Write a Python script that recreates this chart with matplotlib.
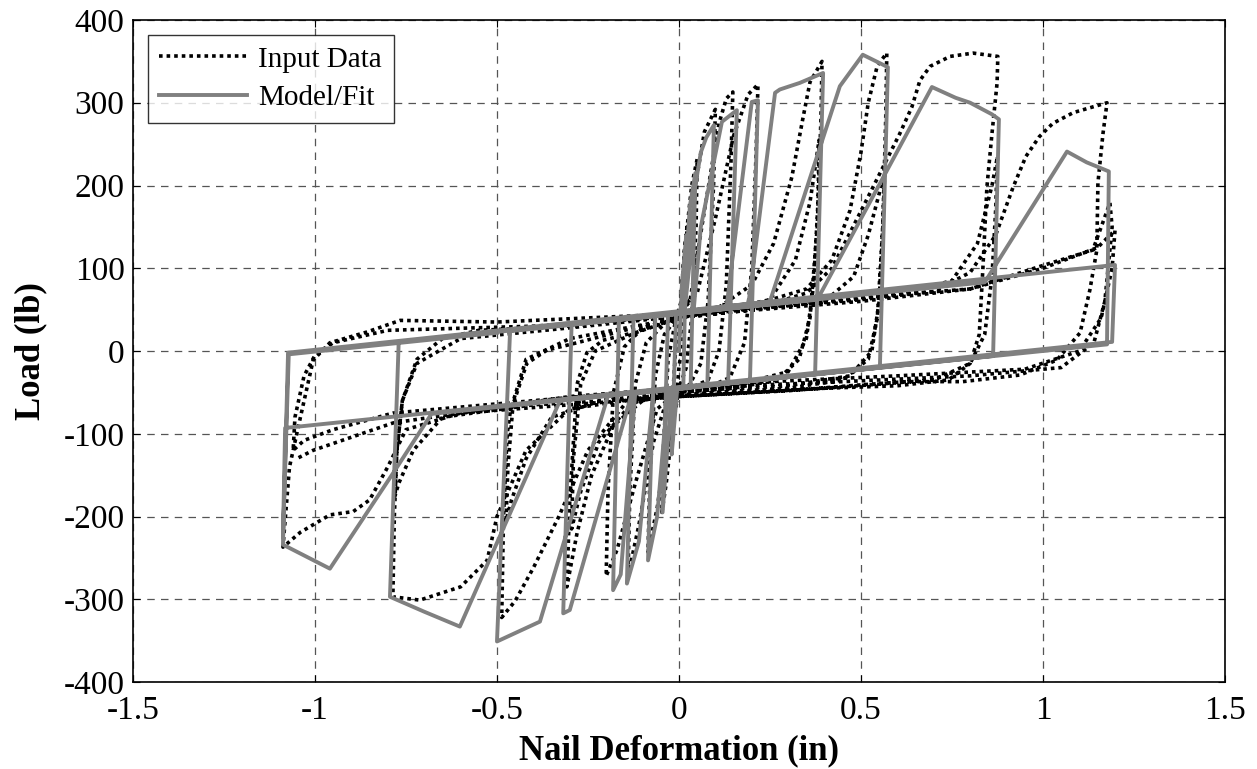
import matplotlib
matplotlib.use("Agg")
import matplotlib.pyplot as plt

# Measured nail hysteresis (displacement in inches, load in lb)
data_x = [
    0.000, 0.005, 0.015, 0.022, 0.020, 0.012, 0.000, -0.008, -0.018, -0.022, -0.018, -0.008, 0.002,
    0.015, 0.035, 0.050, 0.047, 0.035, 0.020, 0.000, -0.020, -0.035, -0.047, -0.043, -0.030, -0.010,
    0.020, 0.045, 0.070, 0.100, 0.095, 0.080, 0.060, 0.030, 0.000, -0.030, -0.060, -0.085, -0.080, -0.065, -0.040, -0.010,
    0.030, 0.070, 0.110, 0.130, 0.148, 0.143, 0.130, 0.110, 0.080, 0.030, -0.030, -0.070, -0.110, -0.140, -0.135, -0.120, -0.090, -0.040,
    0.050, 0.100, 0.150, 0.190, 0.217, 0.212, 0.200, 0.180, 0.140, 0.080, 0.000, -0.060, -0.120, -0.170, -0.200, -0.195, -0.180, -0.150, -0.100,
    -0.020, 0.100, 0.200, 0.260, 0.310, 0.340, 0.360, 0.393, 0.390, 0.380, 0.360, 0.330, 0.270, 0.150, 0.000, -0.100, -0.180, -0.240, -0.280, -0.308, -0.300, -0.280, -0.253, -0.209, -0.126, 0.000,
    0.100, 0.250, 0.320, 0.360, 0.385, 0.382, 0.370, 0.350, 0.300, 0.150, 0.000, -0.120, -0.220, -0.270, -0.295, -0.290, -0.270, -0.230, -0.120, 0.000,
    0.200, 0.350, 0.420, 0.470, 0.500, 0.520, 0.545, 0.571, 0.568, 0.560, 0.545, 0.520, 0.450, 0.300, 0.100, -0.050, -0.150, -0.250, -0.330, -0.400, -0.450, -0.487, -0.482, -0.472, -0.464, -0.418, -0.363, -0.280, -0.150, 0.000,
    0.200, 0.400, 0.480, 0.520, 0.550, 0.565, 0.560, 0.550, 0.530, 0.470, 0.300, 0.000, -0.200, -0.350, -0.420, -0.460, -0.475, -0.470, -0.455, -0.420, -0.300, 0.000,
    0.200, 0.350, 0.420, 0.470, 0.533, 0.607, 0.640, 0.662, 0.690, 0.745, 0.808, 0.876, 0.874, 0.860, 0.846, 0.835, 0.825, 0.800, 0.740, 0.600, 0.400, 0.200, 0.000, -0.150, -0.300, -0.420, -0.500, -0.527, -0.600, -0.712, -0.786, -0.782, -0.775, -0.760, -0.720, -0.650, -0.550, -0.300, 0.000,
    0.300, 0.600, 0.750, 0.820, 0.860, 0.875, 0.870, 0.860, 0.840, 0.800, 0.700, 0.400, 0.000, -0.400, -0.650, -0.730, -0.770, -0.780, -0.775, -0.760, -0.720, -0.600, -0.300, 0.000,
    0.300, 0.500, 0.700, 0.800, 0.870, 0.918, 0.953, 0.990, 1.027, 1.083, 1.176, 1.165, 1.151, 1.148, 1.129, 1.102, 1.038, 0.937, 0.780, 0.626, 0.497, 0.300, 0.000, -0.300, -0.600, -0.750, -0.800, -0.850, -0.895, -0.959, -1.040, -1.088, -1.070, -1.040, -1.005, -0.959, -0.857, -0.766, -0.500, 0.000,
    0.500, 0.800, 0.990, 1.137, 1.184, 1.190, 1.170, 1.140, 1.050, 0.800, 0.400, 0.000, -0.400, -0.786, -0.950, -1.030, -1.060, -1.055, -1.030, -1.000, -0.950, -0.800, -0.400, 0.000,
    0.500, 0.800, 1.000, 1.150, 1.198, 1.190, 1.160, 1.100, 0.950, 0.600, 0.200, -0.300, -0.786, -1.005, -1.050,
]
data_y = [
    0, 60, 120, 150, 100, 20, -20, -60, -100, -115, -60, 10, 40,
    120, 200, 232, 150, 40, -20, -45, -100, -160, -195, -120, -10, 35,
    80, 200, 265, 292, 200, 60, -15, -40, -50, -100, -190, -243, -150, -30, 20, 38,
    60, 170, 275, 305, 313, 230, 80, 0, -35, -45, -55, -110, -210, -272, -170, -40, 10, 33,
    70, 160, 260, 310, 322, 240, 100, 10, -32, -44, -48, -70, -160, -240, -272, -170, -50, 5, 28,
    38, 50, 80, 130, 210, 280, 325, 350, 280, 150, 40, -10, -35, -45, -50, -60, -90, -150, -220, -285, -180, -40, -2, 13, 22, 40,
    48, 62, 110, 180, 255, 180, 80, 15, -25, -42, -48, -58, -110, -170, -215, -130, -40, 0, 22, 40,
    55, 75, 110, 170, 240, 300, 345, 360, 280, 150, 40, -10, -35, -45, -50, -55, -65, -120, -200, -262, -302, -322, -200, -100, -75, -15, 1, 10, 25, 40,
    50, 60, 90, 140, 190, 215, 150, 60, 0, -30, -42, -50, -58, -80, -130, -180, -205, -140, -60, -10, 15, 40,
    50, 70, 100, 143, 198, 263, 295, 327, 344, 356, 360, 356, 324, 263, 198, 100, 20, -15, -35, -42, -45, -50, -55, -60, -70, -120, -200, -253, -285, -301, -297, -200, -120, -60, -10, 15, 25, 30, 45,
    55, 68, 85, 130, 200, 235, 170, 90, 20, -15, -35, -45, -55, -65, -80, -120, -160, -175, -120, -60, -15, 15, 28, 42,
    55, 62, 72, 95, 140, 198, 235, 259, 275, 288, 300, 263, 203, 122, 74, 22, -11, -29, -37, -37, -41, -48, -55, -65, -75, -95, -140, -180, -194, -198, -219, -237, -140, -80, -11, 10, 23, 37, 35, 45,
    65, 75, 102, 122, 179, 150, 60, 10, -20, -30, -38, -45, -60, -75, -95, -108, -120, -80, -30, -5, 10, 25, 30, 42,
    60, 75, 100, 125, 146, 100, 40, 0, -22, -30, -38, -55, -87, -120, -130,
]

# Fitted hysteresis model (piecewise-linear path)
model_x = [
    0.000, 0.008, 0.020, 0.012, -0.005, -0.020, -0.008,
    0.010, 0.030, 0.045, 0.032, -0.020, -0.045, -0.030,
    0.015, 0.030, 0.045, 0.060, 0.075, 0.096, 0.078, -0.030, -0.060, -0.085, -0.065,
    0.040, 0.060, 0.118, 0.159, 0.135, -0.070, -0.110, -0.143, -0.125,
    0.130, 0.200, 0.217, 0.195, -0.120, -0.160, -0.181, -0.165,
    0.190, 0.264, 0.277, 0.332, 0.396, 0.374, -0.130, -0.300, -0.318, -0.295,
    0.250, 0.442, 0.505, 0.574, 0.552, -0.195, -0.382, -0.500, -0.464,
    0.380, 0.695, 0.760, 0.800, 0.860, 0.879, 0.863, -0.327, -0.602, -0.700, -0.794, -0.770,
    0.840, 1.066, 1.120, 1.181, 1.176, -0.680, -0.780, -0.959, -1.088, -1.074,
    1.198, 1.190, -1.082, -1.088, -1.072, -0.500,
]
model_y = [
    0, 80, 140, -42, -47, -125, 44,
    46, 175, 215, -44, -47, -195, 44,
    46, 110, 200, 240, 258, 273, -41, -46, -200, -253, 42,
    47, 150, 277, 291, -39, -48, -230, -281, 40,
    51, 301, 303, -36, -50, -270, -289, 38,
    54, 312, 316, 324, 336, -28, -52, -313, -317, 32,
    60, 320, 358, 343, -20, -54, -327, -351, 24,
    62, 319, 306, 300, 286, 280, -6, -60, -333, -315, -297, 11,
    83, 241, 228, 217, 8, -76, -144, -263, -234, -2,
    104, 11, -93, -225, -4, 22,
]

plt.rcParams["font.family"] = ["Liberation Serif", "DejaVu Serif"]

fig = plt.figure(figsize=(12.57, 7.69), dpi=100)
ax = fig.add_axes([0.1058, 0.1131, 0.8687, 0.8609])

ax.plot(data_x, data_y, linestyle=(0, (1, 1.1)), color="black", linewidth=2.6,
        label="Input Data", zorder=2)
ax.plot(model_x, model_y, linestyle="-", color="#808080", linewidth=2.8,
        label="Model/Fit", zorder=3)

ax.set_xlim(-1.5, 1.5)
ax.set_ylim(-400, 400)
ax.set_xticks([-1.5, -1, -0.5, 0, 0.5, 1, 1.5])
ax.set_xticklabels(["-1.5", "-1", "-0.5", "0", "0.5", "1", "1.5"])
ax.set_yticks(range(-400, 401, 100))
ax.set_yticklabels([str(v) for v in range(-400, 401, 100)])

ax.grid(True, linestyle=(0, (6, 5)), color="#555555", linewidth=0.9)
ax.tick_params(direction="in", top=True, right=True, length=5, width=0.8,
               labelsize=24)
ax.tick_params(axis="x", pad=10)
ax.tick_params(axis="y", pad=6)
for s in ax.spines.values():
    s.set_linewidth(1.2)

ax.set_xlabel("Nail Deformation (in)", fontsize=25, fontweight="bold", labelpad=6)
ax.set_ylabel("Load (lb)", fontsize=25, fontweight="bold", labelpad=12)

leg = ax.legend(loc="upper left", fontsize=21, handlelength=3.0, frameon=True,
                fancybox=False, borderpad=0.4, labelspacing=0.42,
                handletextpad=0.4, borderaxespad=0.5)
leg.get_frame().set_edgecolor("black")
leg.get_frame().set_linewidth(1.0)

fig.savefig("out.png", dpi=100)
